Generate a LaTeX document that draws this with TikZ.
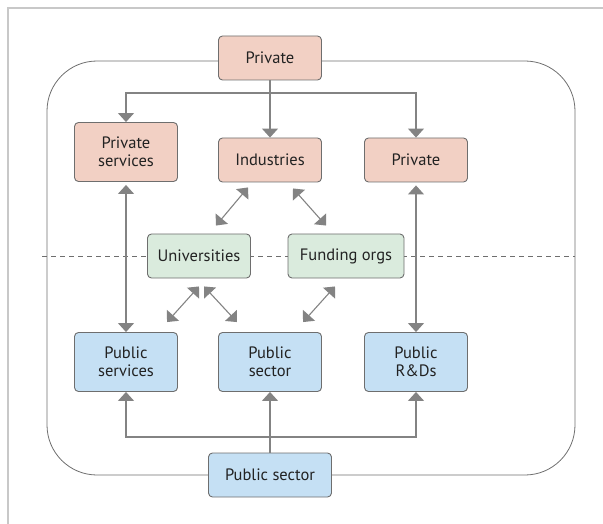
\documentclass[tikz,border=0pt]{standalone}
\usepackage{fontspec}
\setmainfont{PT Sans}
\usetikzlibrary{arrows.meta}
\definecolor{pinkbox}{HTML}{F2D0C4}
\definecolor{greenbox}{HTML}{DAEBDD}
\definecolor{bluebox}{HTML}{C5E0F4}
\definecolor{boxline}{HTML}{6E6E6E}
\definecolor{linkgray}{HTML}{838383}
\definecolor{pagegray}{HTML}{C8C8C8}
\definecolor{inktext}{HTML}{222222}

\begin{document}
\begin{tikzpicture}[x=1pt, y=-1pt,
  box/.style={draw=boxline, line width=0.9pt, rounded corners=4pt, align=center,
    inner sep=0pt, minimum width=103pt, minimum height=44pt, text=inktext,
    font=\fontsize{16.5}{18.5}\selectfont},
  privbox/.style={box, fill=pinkbox},
  midbox/.style={box, fill=greenbox},
  pubbox/.style={box, fill=bluebox},
  tall/.style={minimum height=59pt},
  link/.style={draw=linkgray, line width=1.1pt, >={Triangle[width=16pt,length=9pt]}}]
  \useasboundingbox (0,0) rectangle (603,524);
  % page frame and outer loop
  \draw[pagegray, line width=2pt] (8,524) -- (8,8) -- (603,8);
  \draw[boxline, line width=0.8pt, rounded corners=50pt] (47,61) rectangle (575,475);
  \draw[boxline, line width=0.8pt, dash pattern=on 5pt off 4pt] (42,256) -- (575,256);

  % private side
  \node[privbox] (top) at (270,58) {Private};
  \node[privbox, tall] (psv) at (126,152) {Private\\services};
  \node[privbox] (ind) at (270,160) {Industries};
  \node[privbox] (prv) at (416,160) {Private};

  % middle
  \node[midbox] (uni) at (199,256) {Universities};
  \node[midbox, minimum width=116pt] (fund) at (346,256) {Funding orgs};

  % public side
  \node[pubbox, tall] (pusv) at (126,362) {Public\\services};
  \node[pubbox, tall] (pusec) at (270,362) {Public\\sector};
  \node[pubbox, tall] (prd) at (416,362) {Public\\R\&Ds};
  \node[pubbox, minimum width=123pt] (bot) at (270,475) {Public sector};

  % branches
  \coordinate (tb) at (270,93);
  \coordinate (bb) at (270,437);
  \draw[link] (top) -- (tb);
  \draw[link,->] (tb) -| (psv);
  \draw[link,->] (tb) -- (ind);
  \draw[link,->] (tb) -| (prv);
  \draw[link] (bot) -- (bb);
  \draw[link,->] (bb) -| (pusv);
  \draw[link,->] (bb) -- (pusec);
  \draw[link,->] (bb) -| (prd);

  % two-way links
  \draw[link,<->, shorten <=3pt] (psv) -- (pusv);
  \draw[link,<->, shorten <=3pt] (prv) -- (prd);
  \draw[link,<->] ([shift={(-22,5)}]ind.south) -- ([shift={(17,-8)}]uni.north);
  \draw[link,<->] ([shift={(23,6)}]ind.south) -- ([shift={(-20,-8)}]fund.north);
  \draw[link,<->] ([shift={(0,8)}]uni.south) -- ([shift={(41,-10)}]pusv.north);
  \draw[link,<->] ([shift={(5,8)}]uni.south) -- ([shift={(-33,-10)}]pusec.north);
  \draw[link,<->] ([shift={(-11,8)}]fund.south) -- ([shift={(33,-10)}]pusec.north);
\end{tikzpicture}
\end{document}
